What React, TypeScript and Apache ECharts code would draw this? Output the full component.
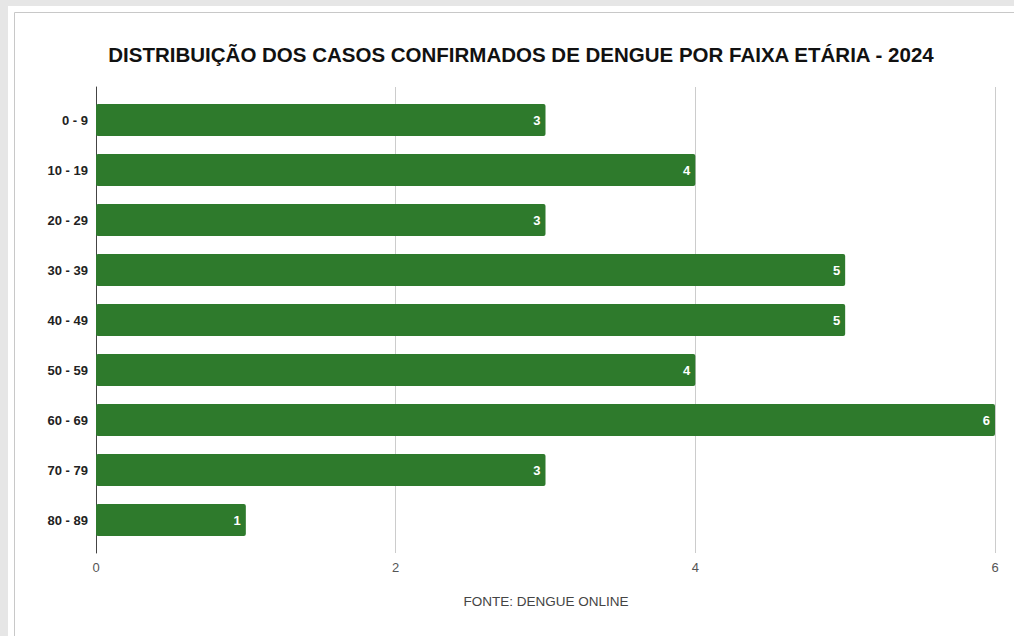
import React, { useEffect, useRef } from "react";
import * as echarts from "echarts";

const categories = ["0 - 9", "10 - 19", "20 - 29", "30 - 39", "40 - 49", "50 - 59", "60 - 69", "70 - 79", "80 - 89"];
const cases = [3, 4, 3, 5, 5, 4, 6, 3, 1];
const xTicks = [0, 2, 4, 6];

const TITLE = "DISTRIBUIÇÃO DOS CASOS CONFIRMADOS DE DENGUE POR FAIXA ETÁRIA - 2024";
const SOURCE = "FONTE: DENGUE ONLINE";
const FONT = "'Liberation Sans', Arial, sans-serif";

export default function App() {
  const ref = useRef<HTMLDivElement>(null);
  useEffect(() => {
    document.body.style.margin = "0";
    const chart = echarts.init(ref.current!, null, { renderer: "svg" });
    chart.setOption({
      animation: false,
      backgroundColor: "#e6e6e6",
      textStyle: { fontFamily: FONT },
      graphic: [
        { type: "rect", shape: { x: 8, y: 6, width: 1010, height: 640 }, style: { fill: "#ffffff" }, z: -10 },
        { type: "rect", shape: { x: 14.5, y: 12.5, width: 1010, height: 640 }, style: { fill: "#ffffff", stroke: "#c8c8c8", lineWidth: 1 }, z: -9 },
        {
          type: "text", x: 521, y: 44,
          style: { text: TITLE, fontSize: 20.5, fontWeight: "bold", fill: "#111", fontFamily: FONT, textAlign: "center", textVerticalAlign: "top" },
        },
        {
          type: "text", x: 546, y: 594,
          style: { text: SOURCE, fontSize: 13.5, fill: "#444", fontFamily: FONT, textAlign: "center", textVerticalAlign: "top" },
        },
      ],
      grid: [
        { left: 96, right: 19, top: 87, bottom: 83 },
        { left: 96, right: 19, top: 95, bottom: 91 },
      ],
      xAxis: [
        {
          gridIndex: 0, type: "value", min: 0, max: 6, interval: 2,
          axisLine: { show: false }, axisTick: { show: false },
          splitLine: { show: true, lineStyle: { color: "#cccccc", width: 1 } },
          axisLabel: { color: "#555555", fontSize: 13, margin: 8, fontFamily: FONT, formatter: (v: number) => (xTicks.includes(v) ? String(v) : "") },
        },
        {
          gridIndex: 1, type: "value", min: 0, max: 6, interval: 2,
          show: false,
        },
      ],
      yAxis: [
        {
          gridIndex: 0, type: "value", min: 0, max: 1,
          axisLine: { show: true, lineStyle: { color: "#444", width: 1 } },
          axisTick: { show: false }, axisLabel: { show: false }, splitLine: { show: false },
        },
        {
          gridIndex: 1, type: "category", data: categories, inverse: true,
          axisLine: { show: false }, axisTick: { show: false },
          axisLabel: { color: "#222", fontSize: 13, fontWeight: "bold", margin: 8, fontFamily: FONT },
        },
      ],
      series: [
        {
          type: "bar", xAxisIndex: 1, yAxisIndex: 1, data: cases,
          barWidth: 32,
          itemStyle: { color: "#2e7a2c", borderRadius: 2 },
          label: {
            show: true, position: "insideRight", distance: 5,
            color: "#fff", fontWeight: "bold", fontSize: 13, fontFamily: FONT,
          },
        },
      ],
    });
    return () => chart.dispose();
  }, []);
  return <div ref={ref} style={{ width: 1014, height: 636 }} />;
}
